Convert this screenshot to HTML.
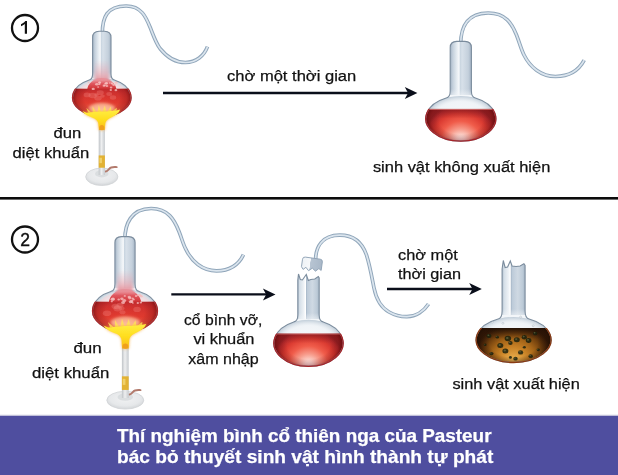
<!DOCTYPE html>
<html><head><meta charset="utf-8"><title>Pasteur</title>
<style>
html,body{margin:0;padding:0;background:#fff;}
body{width:618px;height:475px;overflow:hidden;}
svg{display:block;font-family:"Liberation Sans",sans-serif;}
text{opacity:0.999;}
</style></head><body>
<svg width="618" height="475" viewBox="0 0 618 475">
<defs>
<radialGradient id="base" cx="0.5" cy="0.4" r="0.6"><stop offset="0" stop-color="#f1f2f3"/><stop offset="0.7" stop-color="#e6e8ea"/><stop offset="1" stop-color="#d2d5d8"/></radialGradient>
<linearGradient id="btube" x1="0" x2="1"><stop offset="0" stop-color="#bfc3c7"/><stop offset="0.45" stop-color="#eeeff0"/><stop offset="1" stop-color="#c6cace"/></linearGradient>
<linearGradient id="fl" x1="0" x2="0" y1="0" y2="1"><stop offset="0" stop-color="#ffee44"/><stop offset="0.5" stop-color="#ffde1e"/><stop offset="0.85" stop-color="#fbc51a"/><stop offset="1" stop-color="#f0a61a"/></linearGradient>
<filter id="b0" x="-30%" y="-30%" width="160%" height="160%"><feGaussianBlur stdDeviation="0.35"/></filter>
<filter id="b1" x="-20%" y="-20%" width="140%" height="140%"><feGaussianBlur stdDeviation="0.75"/></filter>
<filter id="b2" x="-30%" y="-30%" width="160%" height="160%"><feGaussianBlur stdDeviation="1.8"/></filter>
<linearGradient id="cap" x1="0" x2="1"><stop offset="0" stop-color="#eef2f6"/><stop offset="0.4" stop-color="#f6f8fa"/><stop offset="0.42" stop-color="#b7c4d2"/><stop offset="1" stop-color="#a9b8c8"/></linearGradient>
<clipPath id="c1"><path d="M92.6,37.3 C92.6,33.3 94.8,31.5 99.1,31.3 L104.5,31.3 C108.8,31.5 111.0,33.3 111.0,37.3 L111.0,74 Q111.0,79.57 115.0,80.17 A29.2,19.2 0 1 1 88.6,80.17 Q92.6,79.57 92.6,74 Z"/></clipPath>
<clipPath id="l1"><rect x="69.6" y="88.5" width="64.4" height="32.0"/></clipPath>
<linearGradient id="nk1" gradientUnits="userSpaceOnUse" x1="92.6" y1="0" x2="111.0" y2="0"><stop offset="0" stop-color="#a3b3c4"/><stop offset="0.12" stop-color="#c4d0dc"/><stop offset="0.3" stop-color="#e3eaf0"/><stop offset="0.42" stop-color="#f7f9fb"/><stop offset="0.47" stop-color="#c9d5e0"/><stop offset="0.56" stop-color="#d7e0e9"/><stop offset="0.85" stop-color="#c4d0dc"/><stop offset="1" stop-color="#a3b3c4"/></linearGradient>
<linearGradient id="nf1" gradientUnits="userSpaceOnUse" x1="0" y1="72" x2="0" y2="83"><stop offset="0" stop-color="#f3f6f9" stop-opacity="0"/><stop offset="1" stop-color="#f3f6f9" stop-opacity="1"/></linearGradient>
<radialGradient id="bg1" gradientUnits="userSpaceOnUse" cx="0" cy="0" r="1" gradientTransform="translate(101.8 97.3) scale(29.2 19.2)"><stop offset="0" stop-color="#ffffff" stop-opacity="0"/><stop offset="0.75" stop-color="#e8eef3" stop-opacity="0.3"/><stop offset="1" stop-color="#b8c6d3" stop-opacity="0.9"/></radialGradient>
<linearGradient id="sm1" gradientUnits="userSpaceOnUse" x1="0" y1="60" x2="0" y2="82"><stop offset="0" stop-color="#e9a3ad" stop-opacity="0"/><stop offset="0.5" stop-color="#eaa0aa" stop-opacity="0.45"/><stop offset="1" stop-color="#e2808c" stop-opacity="0.9"/></linearGradient>
<clipPath id="f1"><rect x="72.6" y="76.1" width="58.4" height="12.900000000000006"/></clipPath>
<linearGradient id="fm1" gradientUnits="userSpaceOnUse" x1="0" y1="80.1" x2="0" y2="88.5"><stop offset="0" stop-color="#ea8e96" stop-opacity="0.85"/><stop offset="0.4" stop-color="#e05860" stop-opacity="1"/><stop offset="1" stop-color="#d23638" stop-opacity="1"/></linearGradient>
<linearGradient id="rv1" gradientUnits="userSpaceOnUse" x1="0" y1="88.5" x2="0" y2="116.5"><stop offset="0" stop-color="#c22c2e"/><stop offset="0.15" stop-color="#d23230"/><stop offset="0.5" stop-color="#e43c30"/><stop offset="0.8" stop-color="#ee5642"/><stop offset="1" stop-color="#f47c5e"/></linearGradient>
<radialGradient id="re1" gradientUnits="userSpaceOnUse" cx="0" cy="0" r="1" gradientTransform="translate(101.8 98.3) scale(29.2 20.16)"><stop offset="0" stop-color="#7a1012" stop-opacity="0"/><stop offset="0.6" stop-color="#7a1012" stop-opacity="0.05"/><stop offset="0.85" stop-color="#8a1416" stop-opacity="0.4"/><stop offset="1" stop-color="#7a1012" stop-opacity="0.8"/></radialGradient>
<radialGradient id="gl1" gradientUnits="userSpaceOnUse" cx="0" cy="0" r="1" gradientTransform="translate(101.8 113.5) scale(17.52 11.904)"><stop offset="0" stop-color="#ffe6c8" stop-opacity="0.95"/><stop offset="0.45" stop-color="#f9b49a" stop-opacity="0.7"/><stop offset="1" stop-color="#f08068" stop-opacity="0"/></radialGradient>
<clipPath id="c2"><path d="M450.2,47.4 C450.2,43.4 452.4,41.6 456.7,41.4 L464.90000000000003,41.4 C469.20000000000005,41.6 471.40000000000003,43.4 471.40000000000003,47.4 L471.40000000000003,91 Q471.40000000000003,97.36 475.40000000000003,97.96 A35.0,22.6 0 1 1 446.2,97.96 Q450.2,97.36 450.2,91 Z"/></clipPath>
<clipPath id="l2"><rect x="422.8" y="108.8" width="76.0" height="36.3"/></clipPath>
<linearGradient id="nk2" gradientUnits="userSpaceOnUse" x1="450.2" y1="0" x2="471.40000000000003" y2="0"><stop offset="0" stop-color="#a3b3c4"/><stop offset="0.12" stop-color="#c4d0dc"/><stop offset="0.3" stop-color="#e3eaf0"/><stop offset="0.42" stop-color="#f7f9fb"/><stop offset="0.47" stop-color="#c9d5e0"/><stop offset="0.56" stop-color="#d7e0e9"/><stop offset="0.85" stop-color="#c4d0dc"/><stop offset="1" stop-color="#a3b3c4"/></linearGradient>
<linearGradient id="nf2" gradientUnits="userSpaceOnUse" x1="0" y1="89" x2="0" y2="100"><stop offset="0" stop-color="#f3f6f9" stop-opacity="0"/><stop offset="1" stop-color="#f3f6f9" stop-opacity="1"/></linearGradient>
<radialGradient id="bg2" gradientUnits="userSpaceOnUse" cx="0" cy="0" r="1" gradientTransform="translate(460.8 118.5) scale(35.0 22.6)"><stop offset="0" stop-color="#ffffff" stop-opacity="0"/><stop offset="0.75" stop-color="#e8eef3" stop-opacity="0.3"/><stop offset="1" stop-color="#b8c6d3" stop-opacity="0.9"/></radialGradient>
<radialGradient id="rv2" gradientUnits="userSpaceOnUse" cx="0" cy="0" r="1" gradientTransform="translate(460.8 142.1) scale(37.800000000000004 38.114)"><stop offset="0" stop-color="#ffffff"/><stop offset="0.14" stop-color="#fde2dc"/><stop offset="0.34" stop-color="#f79c8c"/><stop offset="0.55" stop-color="#f05c4a"/><stop offset="0.76" stop-color="#dc3c32"/><stop offset="0.92" stop-color="#b42a2c"/><stop offset="1" stop-color="#8e2024"/></radialGradient>
<linearGradient id="rt2" gradientUnits="userSpaceOnUse" x1="0" y1="108.8" x2="0" y2="118.49"><stop offset="0" stop-color="#86181c" stop-opacity="0.75"/><stop offset="0.5" stop-color="#8e1c20" stop-opacity="0.35"/><stop offset="1" stop-color="#9a2024" stop-opacity="0"/></linearGradient>
<radialGradient id="re2" gradientUnits="userSpaceOnUse" cx="0" cy="0" r="1" gradientTransform="translate(460.8 119.5) scale(35.0 23.730000000000004)"><stop offset="0" stop-color="#7a1012" stop-opacity="0"/><stop offset="0.62" stop-color="#7a1012" stop-opacity="0.0"/><stop offset="0.85" stop-color="#7a1012" stop-opacity="0.35"/><stop offset="1" stop-color="#640a0c" stop-opacity="0.85"/></radialGradient>
<clipPath id="c3"><path d="M114.9,242.6 C114.9,238.6 117.10000000000001,236.79999999999998 121.4,236.6 L128.6,236.6 C132.9,236.79999999999998 135.1,238.6 135.1,242.6 L135.1,284 Q135.1,290.81 139.1,291.41 A32.4,21.2 0 1 1 110.9,291.41 Q114.9,290.81 114.9,284 Z"/></clipPath>
<clipPath id="l3"><rect x="89.6" y="301.5" width="70.8" height="34.19999999999999"/></clipPath>
<linearGradient id="nk3" gradientUnits="userSpaceOnUse" x1="114.9" y1="0" x2="135.1" y2="0"><stop offset="0" stop-color="#a3b3c4"/><stop offset="0.12" stop-color="#c4d0dc"/><stop offset="0.3" stop-color="#e3eaf0"/><stop offset="0.42" stop-color="#f7f9fb"/><stop offset="0.47" stop-color="#c9d5e0"/><stop offset="0.56" stop-color="#d7e0e9"/><stop offset="0.85" stop-color="#c4d0dc"/><stop offset="1" stop-color="#a3b3c4"/></linearGradient>
<linearGradient id="nf3" gradientUnits="userSpaceOnUse" x1="0" y1="282" x2="0" y2="293"><stop offset="0" stop-color="#f3f6f9" stop-opacity="0"/><stop offset="1" stop-color="#f3f6f9" stop-opacity="1"/></linearGradient>
<radialGradient id="bg3" gradientUnits="userSpaceOnUse" cx="0" cy="0" r="1" gradientTransform="translate(125 310.5) scale(32.4 21.2)"><stop offset="0" stop-color="#ffffff" stop-opacity="0"/><stop offset="0.75" stop-color="#e8eef3" stop-opacity="0.3"/><stop offset="1" stop-color="#b8c6d3" stop-opacity="0.9"/></radialGradient>
<linearGradient id="sm3" gradientUnits="userSpaceOnUse" x1="0" y1="270" x2="0" y2="292"><stop offset="0" stop-color="#e9a3ad" stop-opacity="0"/><stop offset="0.5" stop-color="#eaa0aa" stop-opacity="0.45"/><stop offset="1" stop-color="#e2808c" stop-opacity="0.9"/></linearGradient>
<clipPath id="f3"><rect x="92.6" y="287.3" width="64.8" height="14.699999999999989"/></clipPath>
<linearGradient id="fm3" gradientUnits="userSpaceOnUse" x1="0" y1="291.3" x2="0" y2="301.5"><stop offset="0" stop-color="#ea8e96" stop-opacity="0.85"/><stop offset="0.4" stop-color="#e05860" stop-opacity="1"/><stop offset="1" stop-color="#d23638" stop-opacity="1"/></linearGradient>
<linearGradient id="rv3" gradientUnits="userSpaceOnUse" x1="0" y1="301.5" x2="0" y2="331.7"><stop offset="0" stop-color="#c22c2e"/><stop offset="0.15" stop-color="#d23230"/><stop offset="0.5" stop-color="#e43c30"/><stop offset="0.8" stop-color="#ee5642"/><stop offset="1" stop-color="#f47c5e"/></linearGradient>
<radialGradient id="re3" gradientUnits="userSpaceOnUse" cx="0" cy="0" r="1" gradientTransform="translate(125 311.5) scale(32.4 22.26)"><stop offset="0" stop-color="#7a1012" stop-opacity="0"/><stop offset="0.6" stop-color="#7a1012" stop-opacity="0.05"/><stop offset="0.85" stop-color="#8a1416" stop-opacity="0.4"/><stop offset="1" stop-color="#7a1012" stop-opacity="0.8"/></radialGradient>
<radialGradient id="gl3" gradientUnits="userSpaceOnUse" cx="0" cy="0" r="1" gradientTransform="translate(125 328.7) scale(19.439999999999998 13.144)"><stop offset="0" stop-color="#ffe6c8" stop-opacity="0.95"/><stop offset="0.45" stop-color="#f9b49a" stop-opacity="0.7"/><stop offset="1" stop-color="#f08068" stop-opacity="0"/></radialGradient>
<clipPath id="c4"><path d="M297.8,280.0 L298.5,274.0 L300.3,279.5 L302.4,280.0 L306.3,274.5 L308.3,280.5 L310.8,279.5 L314.8,279.0 L318.3,276.5 L319.2,278.0 L319.2,315 Q319.2,321.31 323.2,321.91 A34.6,23.3 0 1 1 293.8,321.91 Q297.8,321.31 297.8,315 Z"/></clipPath>
<clipPath id="l4"><rect x="270.9" y="333.4" width="75.2" height="36.900000000000034"/></clipPath>
<linearGradient id="nk4" gradientUnits="userSpaceOnUse" x1="297.8" y1="0" x2="319.2" y2="0"><stop offset="0" stop-color="#a9b8c8"/><stop offset="0.08" stop-color="#d4dee7"/><stop offset="0.28" stop-color="#eef2f6"/><stop offset="0.36" stop-color="#ffffff"/><stop offset="0.385" stop-color="#9fb0c2"/><stop offset="0.43" stop-color="#bccad8"/><stop offset="0.68" stop-color="#cfd9e3"/><stop offset="0.9" stop-color="#bccad7"/><stop offset="1" stop-color="#a3b3c4"/></linearGradient>
<linearGradient id="nf4" gradientUnits="userSpaceOnUse" x1="0" y1="313" x2="0" y2="324"><stop offset="0" stop-color="#f3f6f9" stop-opacity="0"/><stop offset="1" stop-color="#f3f6f9" stop-opacity="1"/></linearGradient>
<radialGradient id="bg4" gradientUnits="userSpaceOnUse" cx="0" cy="0" r="1" gradientTransform="translate(308.5 343) scale(34.6 23.3)"><stop offset="0" stop-color="#ffffff" stop-opacity="0"/><stop offset="0.75" stop-color="#e8eef3" stop-opacity="0.3"/><stop offset="1" stop-color="#b8c6d3" stop-opacity="0.9"/></radialGradient>
<radialGradient id="rv4" gradientUnits="userSpaceOnUse" cx="0" cy="0" r="1" gradientTransform="translate(308.5 367.3) scale(37.368 38.82200000000004)"><stop offset="0" stop-color="#ffffff"/><stop offset="0.14" stop-color="#fde2dc"/><stop offset="0.34" stop-color="#f79c8c"/><stop offset="0.55" stop-color="#f05c4a"/><stop offset="0.76" stop-color="#dc3c32"/><stop offset="0.92" stop-color="#b42a2c"/><stop offset="1" stop-color="#8e2024"/></radialGradient>
<linearGradient id="rt4" gradientUnits="userSpaceOnUse" x1="0" y1="333.4" x2="0" y2="343.27"><stop offset="0" stop-color="#86181c" stop-opacity="0.75"/><stop offset="0.5" stop-color="#8e1c20" stop-opacity="0.35"/><stop offset="1" stop-color="#9a2024" stop-opacity="0"/></linearGradient>
<radialGradient id="re4" gradientUnits="userSpaceOnUse" cx="0" cy="0" r="1" gradientTransform="translate(308.5 344) scale(34.6 24.465000000000003)"><stop offset="0" stop-color="#7a1012" stop-opacity="0"/><stop offset="0.62" stop-color="#7a1012" stop-opacity="0.0"/><stop offset="0.85" stop-color="#7a1012" stop-opacity="0.35"/><stop offset="1" stop-color="#640a0c" stop-opacity="0.85"/></radialGradient>
<clipPath id="c5"><path d="M502.1,269.0 L503.3,260.5 L505.1,267.5 L507.6,267.0 L510.3,261.0 L512.1,266.0 L516.1,266.5 L520.1,266.0 L523.9,263.8 L525.1,265.5 L525.1,311 Q525.1,318.35 529.1,318.95 A37.4,22.8 0 1 1 498.1,318.95 Q502.1,318.35 502.1,311 Z"/></clipPath>
<clipPath id="l5"><rect x="473.20000000000005" y="328" width="80.8" height="38.5"/></clipPath>
<linearGradient id="nk5" gradientUnits="userSpaceOnUse" x1="502.1" y1="0" x2="525.1" y2="0"><stop offset="0" stop-color="#a9b8c8"/><stop offset="0.08" stop-color="#d4dee7"/><stop offset="0.28" stop-color="#eef2f6"/><stop offset="0.36" stop-color="#ffffff"/><stop offset="0.385" stop-color="#9fb0c2"/><stop offset="0.43" stop-color="#bccad8"/><stop offset="0.68" stop-color="#cfd9e3"/><stop offset="0.9" stop-color="#bccad7"/><stop offset="1" stop-color="#a3b3c4"/></linearGradient>
<linearGradient id="nf5" gradientUnits="userSpaceOnUse" x1="0" y1="309" x2="0" y2="320"><stop offset="0" stop-color="#f3f6f9" stop-opacity="0"/><stop offset="1" stop-color="#f3f6f9" stop-opacity="1"/></linearGradient>
<radialGradient id="bg5" gradientUnits="userSpaceOnUse" cx="0" cy="0" r="1" gradientTransform="translate(513.6 339.7) scale(37.4 22.8)"><stop offset="0" stop-color="#ffffff" stop-opacity="0"/><stop offset="0.75" stop-color="#e8eef3" stop-opacity="0.3"/><stop offset="1" stop-color="#b8c6d3" stop-opacity="0.9"/></radialGradient>
<radialGradient id="rv5" gradientUnits="userSpaceOnUse" cx="0" cy="0" r="1" gradientTransform="translate(513.6 363.5) scale(40.392 41.4)"><stop offset="0" stop-color="#f2c468"/><stop offset="0.18" stop-color="#e2a444"/><stop offset="0.4" stop-color="#c88226"/><stop offset="0.6" stop-color="#a46418"/><stop offset="0.78" stop-color="#74420e"/><stop offset="0.92" stop-color="#48260a"/><stop offset="1" stop-color="#2c1606"/></radialGradient>
<linearGradient id="rt5" gradientUnits="userSpaceOnUse" x1="0" y1="328" x2="0" y2="339.04"><stop offset="0" stop-color="#1e0e04" stop-opacity="0.9"/><stop offset="0.45" stop-color="#2a1406" stop-opacity="0.5"/><stop offset="1" stop-color="#3a1c08" stop-opacity="0"/></linearGradient>
<radialGradient id="re5" gradientUnits="userSpaceOnUse" cx="0" cy="0" r="1" gradientTransform="translate(513.6 341.7) scale(37.4 23.94)"><stop offset="0" stop-color="#2a1204" stop-opacity="0"/><stop offset="0.65" stop-color="#2a1204" stop-opacity="0.0"/><stop offset="0.86" stop-color="#2e1405" stop-opacity="0.4"/><stop offset="1" stop-color="#241004" stop-opacity="0.9"/></radialGradient>
</defs>
<rect width="618" height="475" fill="#ffffff"/>
<rect x="0" y="197" width="618" height="2.6" fill="#0c0c0c"/>
<rect x="0" y="414.6" width="618" height="1.4" fill="#dcdce8"/>
<rect x="0" y="415.8" width="618" height="60" fill="#4f4e9f"/>
<circle cx="25" cy="28" r="13" fill="#fff" stroke="#111" stroke-width="2.3"/>
<path d="M27,21 L27,33.8 L24.8,33.8 L24.8,23.9 C23.7,24.9 22.4,25.7 21,26.3 L21,24.3 C22.9,23.4 24.4,22.2 25.3,21 Z" fill="#111"/>
<circle cx="25" cy="239.5" r="13" fill="#fff" stroke="#111" stroke-width="2.3"/>
<text x="25" y="245.8" font-size="17.5" font-weight="normal" fill="#111" stroke="#111" stroke-width="0.4" text-anchor="middle">2</text>
<path d="M102.3,34 C102.3,17 107,6.2 126,6 C143,5.8 147,20 151,29.5 C154,37 156,43 160,48.5 C166,56 175,62.5 185.5,62.5 C196,62.5 204,56 207.5,46.7" fill="none" stroke="#90a6ba" stroke-width="3.7" stroke-linecap="butt"/><path d="M102.3,34 C102.3,17 107,6.2 126,6 C143,5.8 147,20 151,29.5 C154,37 156,43 160,48.5 C166,56 175,62.5 185.5,62.5 C196,62.5 204,56 207.5,46.7" fill="none" stroke="#dbe5ee" stroke-width="1.7" stroke-linecap="butt"/>
<path d="M460.6,45 C460.6,28 466,13.3 488,13 C506,12.8 512,24 516.5,35 C520,44 521,49 524,55 C530,67 541,76.5 555.5,76.5 C569,76.5 579,70 584.2,60.2" fill="none" stroke="#90a6ba" stroke-width="3.7" stroke-linecap="butt"/><path d="M460.6,45 C460.6,28 466,13.3 488,13 C506,12.8 512,24 516.5,35 C520,44 521,49 524,55 C530,67 541,76.5 555.5,76.5 C569,76.5 579,70 584.2,60.2" fill="none" stroke="#dbe5ee" stroke-width="1.7" stroke-linecap="butt"/>
<path d="M124.8,240 C124.8,224 131,208.8 151,208.5 C168,208.3 174.5,220 179,231.5 C182,239 183,244 186,249.5 C191.5,261 202,270.8 216.5,270.8 C229,270.8 238.5,265 243.5,254.6" fill="none" stroke="#90a6ba" stroke-width="3.7" stroke-linecap="butt"/><path d="M124.8,240 C124.8,224 131,208.8 151,208.5 C168,208.3 174.5,220 179,231.5 C182,239 183,244 186,249.5 C191.5,261 202,270.8 216.5,270.8 C229,270.8 238.5,265 243.5,254.6" fill="none" stroke="#dbe5ee" stroke-width="1.7" stroke-linecap="butt"/>
<path d="M315.6,259 C316,247 322,235.5 339.5,235.2 C356,235 363,245 366.5,255 C370,266 372,278 374,288 C376,298 380,307 389,312 C396,316 402,316.8 407,316.7 C416,316.5 424,311 428.5,304" fill="none" stroke="#90a6ba" stroke-width="3.7" stroke-linecap="butt"/><path d="M315.6,259 C316,247 322,235.5 339.5,235.2 C356,235 363,245 366.5,255 C370,266 372,278 374,288 C376,298 380,307 389,312 C396,316 402,316.8 407,316.7 C416,316.5 424,311 428.5,304" fill="none" stroke="#dbe5ee" stroke-width="1.7" stroke-linecap="butt"/>
<ellipse cx="101.8" cy="176.8" rx="16.1" ry="8.7" fill="url(#base)" stroke="#d0d3d6" stroke-width="0.8"/>
<ellipse cx="101.8" cy="173.75500000000002" rx="6.7620000000000005" ry="3.6539999999999995" fill="#d8dbde" opacity="0.9"/>
<path d="M105.69999999999999,171.5 c2.5,-0.5 3,-3.2 5.5,-4 s3,-0.6 5.5,-0.4" fill="none" stroke="#b27a6c" stroke-width="1.9" stroke-linecap="round"/>
<rect x="98.7" y="129.5" width="6.2" height="45.5" fill="url(#btube)"/>
<rect x="98.7" y="155.435" width="6.2" height="12.285" fill="#e2b234"/>
<rect x="99.5" y="157.71" width="2.4800000000000004" height="5.46" fill="#f4d878" opacity="0.8"/>
<ellipse cx="125.3" cy="400.2" rx="18.5" ry="8.9" fill="url(#base)" stroke="#d0d3d6" stroke-width="0.8"/>
<ellipse cx="125.3" cy="397.085" rx="7.77" ry="3.738" fill="#d8dbde" opacity="0.9"/>
<path d="M129.5,394.5 c2.5,-0.5 3,-3.2 5.5,-4 s3,-0.6 5.5,-0.4" fill="none" stroke="#b27a6c" stroke-width="1.9" stroke-linecap="round"/>
<rect x="121.89999999999999" y="347.6" width="6.8" height="50.39999999999998" fill="url(#btube)"/>
<rect x="121.89999999999999" y="376.32800000000003" width="6.8" height="13.607999999999995" fill="#e2b234"/>
<rect x="122.69999999999999" y="378.848" width="2.72" height="6.047999999999997" fill="#f4d878" opacity="0.8"/>
<path d="M92.6,37.3 C92.6,33.3 94.8,31.5 99.1,31.3 L104.5,31.3 C108.8,31.5 111.0,33.3 111.0,37.3 L111.0,74 Q111.0,79.57 115.0,80.17 A29.2,19.2 0 1 1 88.6,80.17 Q92.6,79.57 92.6,74 Z" fill="#f3f6f9"/>
<g clip-path="url(#c1)">
<rect x="92.6" y="27.3" width="18.4" height="50.7" fill="url(#nk1)"/>
<rect x="91.6" y="72" width="20.4" height="12" fill="url(#nf1)"/>
<ellipse cx="101.8" cy="97.3" rx="29.2" ry="19.2" fill="url(#bg1)"/>
<rect x="94.44" y="60" width="14.719999999999999" height="24" fill="url(#sm1)" filter="url(#b2)"/>
<g clip-path="url(#f1)"><ellipse cx="101.8" cy="97.3" rx="26.28" ry="16.896" fill="#f4ccd0" opacity="0.5" filter="url(#b1)"/><ellipse cx="101.8" cy="90.5" rx="14.6" ry="12.400000000000006" fill="url(#fm1)" filter="url(#b1)"/></g>
<g clip-path="url(#l1)">
<rect x="70.6" y="88.5" width="62.4" height="30.0" fill="url(#rv1)"/>
<rect x="70.6" y="88.5" width="62.4" height="30.0" fill="url(#re1)"/>
</g>
<ellipse cx="101.8" cy="113.5" rx="17.52" ry="11.904" fill="url(#gl1)"/>
<ellipse cx="103.9" cy="85.7" rx="1.3" ry="1.1" fill="#f6bcbc" opacity="0.8"/>
<ellipse cx="93.2" cy="88.9" rx="1.6" ry="1.2" fill="#f6bcbc" opacity="0.8"/>
<ellipse cx="106.3" cy="83.5" rx="1.3" ry="1.0" fill="#f6bcbc" opacity="0.8"/>
<ellipse cx="96.8" cy="84.2" rx="1.7" ry="1.3" fill="#f6bcbc" opacity="0.8"/>
<ellipse cx="116.3" cy="82.5" rx="1.6" ry="1.3" fill="#f6bcbc" opacity="0.8"/>
<ellipse cx="104.8" cy="85.3" rx="1.1" ry="0.9" fill="#f6bcbc" opacity="0.8"/>
<ellipse cx="106.9" cy="86.0" rx="1.4" ry="1.1" fill="#f6bcbc" opacity="0.8"/>
<ellipse cx="106.5" cy="83.3" rx="1.5" ry="1.2" fill="#f6bcbc" opacity="0.8"/>
<ellipse cx="115.9" cy="90.2" rx="1.4" ry="1.1" fill="#f6bcbc" opacity="0.8"/>
<ellipse cx="88.5" cy="82.2" rx="1.0" ry="0.8" fill="#f6bcbc" opacity="0.8"/>
<ellipse cx="114.7" cy="84.7" rx="1.2" ry="0.9" fill="#f6bcbc" opacity="0.8"/>
<ellipse cx="113.4" cy="84.8" rx="1.3" ry="1.1" fill="#f6bcbc" opacity="0.8"/>
<ellipse cx="99.9" cy="82.7" rx="1.3" ry="1.1" fill="#f6bcbc" opacity="0.8"/>
<ellipse cx="111.8" cy="83.5" rx="1.0" ry="0.8" fill="#f6bcbc" opacity="0.8"/>
<ellipse cx="99.3" cy="82.5" rx="1.3" ry="1.0" fill="#f6bcbc" opacity="0.8"/>
<ellipse cx="111.1" cy="87.6" rx="1.3" ry="1.0" fill="#f6bcbc" opacity="0.8"/>
<ellipse cx="112.2" cy="83.4" rx="1.3" ry="1.1" fill="#f6bcbc" opacity="0.8"/>
<ellipse cx="98.1" cy="87.1" rx="0.9" ry="0.8" fill="#f6bcbc" opacity="0.8"/>
<ellipse cx="109.8" cy="83.0" rx="1.0" ry="0.8" fill="#f6bcbc" opacity="0.8"/>
<ellipse cx="110.8" cy="90.0" rx="1.2" ry="1.0" fill="#f6bcbc" opacity="0.8"/>
<ellipse cx="99.3" cy="84.2" rx="1.1" ry="0.9" fill="#f6bcbc" opacity="0.8"/>
<ellipse cx="105.2" cy="83.6" rx="1.0" ry="0.8" fill="#f6bcbc" opacity="0.8"/>
<ellipse cx="100.2" cy="92.7" rx="3.6" ry="2.4" fill="#f2807a" opacity="0.35"/>
<ellipse cx="113.0" cy="97.5" rx="3.2" ry="2.2" fill="#f2807a" opacity="0.35"/>
<ellipse cx="96.5" cy="94.8" rx="2.2" ry="1.5" fill="#f2807a" opacity="0.35"/>
<ellipse cx="109.2" cy="94.0" rx="2.9" ry="1.9" fill="#f2807a" opacity="0.35"/>
<ellipse cx="87.1" cy="94.9" rx="3.5" ry="2.3" fill="#f2807a" opacity="0.35"/>
<ellipse cx="98.0" cy="98.2" rx="3.7" ry="2.4" fill="#f2807a" opacity="0.35"/>
<ellipse cx="92.7" cy="95.5" rx="4.2" ry="2.8" fill="#f2807a" opacity="0.35"/>
<ellipse cx="102.5" cy="96.1" rx="2.3" ry="1.6" fill="#f2807a" opacity="0.35"/>
</g>
<path d="M92.6,37.3 C92.6,33.3 94.8,31.5 99.1,31.3 L104.5,31.3 C108.8,31.5 111.0,33.3 111.0,37.3 L111.0,74 Q111.0,79.57 115.0,80.17 A29.2,19.2 0 1 1 88.6,80.17 Q92.6,79.57 92.6,74 Z" fill="none" stroke="#7b8c9d" stroke-width="1.1"/>
<g clip-path="url(#l1)"><path d="M92.6,37.3 C92.6,33.3 94.8,31.5 99.1,31.3 L104.5,31.3 C108.8,31.5 111.0,33.3 111.0,37.3 L111.0,74 Q111.0,79.57 115.0,80.17 A29.2,19.2 0 1 1 88.6,80.17 Q92.6,79.57 92.6,74 Z" fill="none" stroke="#b02a2a" stroke-width="1.3"/></g>
<path d="M450.2,47.4 C450.2,43.4 452.4,41.6 456.7,41.4 L464.90000000000003,41.4 C469.20000000000005,41.6 471.40000000000003,43.4 471.40000000000003,47.4 L471.40000000000003,91 Q471.40000000000003,97.36 475.40000000000003,97.96 A35.0,22.6 0 1 1 446.2,97.96 Q450.2,97.36 450.2,91 Z" fill="#f3f6f9"/>
<g clip-path="url(#c2)">
<rect x="450.2" y="37.4" width="21.2" height="57.6" fill="url(#nk2)"/>
<rect x="449.2" y="89" width="23.2" height="12" fill="url(#nf2)"/>
<ellipse cx="460.8" cy="118.5" rx="35.0" ry="22.6" fill="url(#bg2)"/>
<g clip-path="url(#l2)">
<rect x="423.8" y="108.8" width="74.0" height="34.3" fill="url(#rv2)"/>
<rect x="423.8" y="108.8" width="74.0" height="9.69" fill="url(#rt2)"/>
<rect x="423.8" y="108.8" width="74.0" height="34.3" fill="url(#re2)"/>
<rect x="423.8" y="108.8" width="74.0" height="1" fill="#e88a88" opacity="0.8"/>
</g>
</g>
<path d="M450.2,47.4 C450.2,43.4 452.4,41.6 456.7,41.4 L464.90000000000003,41.4 C469.20000000000005,41.6 471.40000000000003,43.4 471.40000000000003,47.4 L471.40000000000003,91 Q471.40000000000003,97.36 475.40000000000003,97.96 A35.0,22.6 0 1 1 446.2,97.96 Q450.2,97.36 450.2,91 Z" fill="none" stroke="#7b8c9d" stroke-width="1.1"/>
<g clip-path="url(#l2)"><path d="M450.2,47.4 C450.2,43.4 452.4,41.6 456.7,41.4 L464.90000000000003,41.4 C469.20000000000005,41.6 471.40000000000003,43.4 471.40000000000003,47.4 L471.40000000000003,91 Q471.40000000000003,97.36 475.40000000000003,97.96 A35.0,22.6 0 1 1 446.2,97.96 Q450.2,97.36 450.2,91 Z" fill="none" stroke="#a82428" stroke-width="1.3"/></g>
<path d="M114.9,242.6 C114.9,238.6 117.10000000000001,236.79999999999998 121.4,236.6 L128.6,236.6 C132.9,236.79999999999998 135.1,238.6 135.1,242.6 L135.1,284 Q135.1,290.81 139.1,291.41 A32.4,21.2 0 1 1 110.9,291.41 Q114.9,290.81 114.9,284 Z" fill="#f3f6f9"/>
<g clip-path="url(#c3)">
<rect x="114.9" y="232.6" width="20.2" height="55.400000000000006" fill="url(#nk3)"/>
<rect x="113.9" y="282" width="22.2" height="12" fill="url(#nf3)"/>
<ellipse cx="125" cy="310.5" rx="32.4" ry="21.2" fill="url(#bg3)"/>
<rect x="116.92" y="270" width="16.16" height="24" fill="url(#sm3)" filter="url(#b2)"/>
<g clip-path="url(#f3)"><ellipse cx="125" cy="310.5" rx="29.16" ry="18.656" fill="#f4ccd0" opacity="0.5" filter="url(#b1)"/><ellipse cx="125" cy="303.5" rx="16.2" ry="14.199999999999989" fill="url(#fm3)" filter="url(#b1)"/></g>
<g clip-path="url(#l3)">
<rect x="90.6" y="301.5" width="68.8" height="32.19999999999999" fill="url(#rv3)"/>
<rect x="90.6" y="301.5" width="68.8" height="32.19999999999999" fill="url(#re3)"/>
</g>
<ellipse cx="125" cy="328.7" rx="19.439999999999998" ry="13.144" fill="url(#gl3)"/>
<ellipse cx="131.9" cy="302.2" rx="1.1" ry="0.9" fill="#f6bcbc" opacity="0.8"/>
<ellipse cx="141.1" cy="296.3" rx="1.6" ry="1.3" fill="#f6bcbc" opacity="0.8"/>
<ellipse cx="111.8" cy="301.4" rx="1.1" ry="0.9" fill="#f6bcbc" opacity="0.8"/>
<ellipse cx="131.7" cy="301.1" rx="1.7" ry="1.3" fill="#f6bcbc" opacity="0.8"/>
<ellipse cx="123.1" cy="302.4" rx="1.9" ry="1.5" fill="#f6bcbc" opacity="0.8"/>
<ellipse cx="112.5" cy="299.2" rx="1.9" ry="1.5" fill="#f6bcbc" opacity="0.8"/>
<ellipse cx="132.7" cy="298.6" rx="1.2" ry="1.0" fill="#f6bcbc" opacity="0.8"/>
<ellipse cx="139.7" cy="295.3" rx="1.7" ry="1.3" fill="#f6bcbc" opacity="0.8"/>
<ellipse cx="136.1" cy="295.9" rx="1.3" ry="1.0" fill="#f6bcbc" opacity="0.8"/>
<ellipse cx="118.7" cy="299.5" rx="1.3" ry="1.0" fill="#f6bcbc" opacity="0.8"/>
<ellipse cx="137.8" cy="303.0" rx="1.2" ry="1.0" fill="#f6bcbc" opacity="0.8"/>
<ellipse cx="137.8" cy="295.1" rx="1.0" ry="0.8" fill="#f6bcbc" opacity="0.8"/>
<ellipse cx="130.4" cy="301.8" rx="1.7" ry="1.4" fill="#f6bcbc" opacity="0.8"/>
<ellipse cx="140.9" cy="302.4" rx="1.2" ry="1.0" fill="#f6bcbc" opacity="0.8"/>
<ellipse cx="132.9" cy="303.0" rx="1.0" ry="0.8" fill="#f6bcbc" opacity="0.8"/>
<ellipse cx="124.8" cy="295.9" rx="1.1" ry="0.9" fill="#f6bcbc" opacity="0.8"/>
<ellipse cx="124.3" cy="300.6" rx="1.9" ry="1.5" fill="#f6bcbc" opacity="0.8"/>
<ellipse cx="113.1" cy="299.1" rx="1.9" ry="1.5" fill="#f6bcbc" opacity="0.8"/>
<ellipse cx="133.6" cy="299.4" rx="1.2" ry="0.9" fill="#f6bcbc" opacity="0.8"/>
<ellipse cx="129.2" cy="296.9" rx="1.6" ry="1.2" fill="#f6bcbc" opacity="0.8"/>
<ellipse cx="129.8" cy="298.1" rx="1.7" ry="1.4" fill="#f6bcbc" opacity="0.8"/>
<ellipse cx="121.9" cy="298.8" rx="1.7" ry="1.4" fill="#f6bcbc" opacity="0.8"/>
<ellipse cx="115.3" cy="306.3" rx="3.8" ry="2.6" fill="#f2807a" opacity="0.35"/>
<ellipse cx="122.5" cy="312.3" rx="3.0" ry="2.0" fill="#f2807a" opacity="0.35"/>
<ellipse cx="120.0" cy="305.2" rx="3.5" ry="2.4" fill="#f2807a" opacity="0.35"/>
<ellipse cx="117.7" cy="308.6" rx="4.3" ry="2.9" fill="#f2807a" opacity="0.35"/>
<ellipse cx="107.0" cy="313.3" rx="4.2" ry="2.8" fill="#f2807a" opacity="0.35"/>
<ellipse cx="137.1" cy="309.4" rx="3.8" ry="2.6" fill="#f2807a" opacity="0.35"/>
<ellipse cx="121.5" cy="308.2" rx="3.0" ry="2.0" fill="#f2807a" opacity="0.35"/>
<ellipse cx="117.3" cy="307.3" rx="3.2" ry="2.2" fill="#f2807a" opacity="0.35"/>
</g>
<path d="M114.9,242.6 C114.9,238.6 117.10000000000001,236.79999999999998 121.4,236.6 L128.6,236.6 C132.9,236.79999999999998 135.1,238.6 135.1,242.6 L135.1,284 Q135.1,290.81 139.1,291.41 A32.4,21.2 0 1 1 110.9,291.41 Q114.9,290.81 114.9,284 Z" fill="none" stroke="#7b8c9d" stroke-width="1.1"/>
<g clip-path="url(#l3)"><path d="M114.9,242.6 C114.9,238.6 117.10000000000001,236.79999999999998 121.4,236.6 L128.6,236.6 C132.9,236.79999999999998 135.1,238.6 135.1,242.6 L135.1,284 Q135.1,290.81 139.1,291.41 A32.4,21.2 0 1 1 110.9,291.41 Q114.9,290.81 114.9,284 Z" fill="none" stroke="#b02a2a" stroke-width="1.3"/></g>
<path d="M297.8,280.0 L298.5,274.0 L300.3,279.5 L302.4,280.0 L306.3,274.5 L308.3,280.5 L310.8,279.5 L314.8,279.0 L318.3,276.5 L319.2,278.0 L319.2,315 Q319.2,321.31 323.2,321.91 A34.6,23.3 0 1 1 293.8,321.91 Q297.8,321.31 297.8,315 Z" fill="#f3f6f9"/>
<g clip-path="url(#c4)">
<rect x="297.8" y="272" width="21.4" height="47" fill="url(#nk4)"/>
<rect x="296.8" y="313" width="23.4" height="12" fill="url(#nf4)"/>
<ellipse cx="308.5" cy="343" rx="34.6" ry="23.3" fill="url(#bg4)"/>
<g clip-path="url(#l4)">
<rect x="271.9" y="333.4" width="73.2" height="34.900000000000034" fill="url(#rv4)"/>
<rect x="271.9" y="333.4" width="73.2" height="9.87000000000001" fill="url(#rt4)"/>
<rect x="271.9" y="333.4" width="73.2" height="34.900000000000034" fill="url(#re4)"/>
<rect x="271.9" y="333.4" width="73.2" height="1" fill="#e88a88" opacity="0.8"/>
</g>
</g>
<path d="M297.8,280.0 L298.5,274.0 L300.3,279.5 L302.4,280.0 L306.3,274.5 L308.3,280.5 L310.8,279.5 L314.8,279.0 L318.3,276.5 L319.2,278.0 L319.2,315 Q319.2,321.31 323.2,321.91 A34.6,23.3 0 1 1 293.8,321.91 Q297.8,321.31 297.8,315 Z" fill="none" stroke="#7b8c9d" stroke-width="1.1"/>
<g clip-path="url(#l4)"><path d="M297.8,280.0 L298.5,274.0 L300.3,279.5 L302.4,280.0 L306.3,274.5 L308.3,280.5 L310.8,279.5 L314.8,279.0 L318.3,276.5 L319.2,278.0 L319.2,315 Q319.2,321.31 323.2,321.91 A34.6,23.3 0 1 1 293.8,321.91 Q297.8,321.31 297.8,315 Z" fill="none" stroke="#a82428" stroke-width="1.3"/></g>
<path d="M502.1,269.0 L503.3,260.5 L505.1,267.5 L507.6,267.0 L510.3,261.0 L512.1,266.0 L516.1,266.5 L520.1,266.0 L523.9,263.8 L525.1,265.5 L525.1,311 Q525.1,318.35 529.1,318.95 A37.4,22.8 0 1 1 498.1,318.95 Q502.1,318.35 502.1,311 Z" fill="#f3f6f9"/>
<g clip-path="url(#c5)">
<rect x="502.1" y="259" width="23.0" height="56" fill="url(#nk5)"/>
<rect x="501.1" y="309" width="25.0" height="12" fill="url(#nf5)"/>
<ellipse cx="513.6" cy="339.7" rx="37.4" ry="22.8" fill="url(#bg5)"/>
<g clip-path="url(#l5)">
<rect x="474.20000000000005" y="328" width="78.8" height="36.5" fill="url(#rv5)"/>
<rect x="474.20000000000005" y="328" width="78.8" height="11.040000000000001" fill="url(#rt5)"/>
<rect x="474.20000000000005" y="328" width="78.8" height="36.5" fill="url(#re5)"/>
<ellipse cx="507.9" cy="338.5" rx="3.2" ry="2.7" fill="#1a200e" opacity="0.85" filter="url(#b0)"/>
<ellipse cx="507.3" cy="337.9" rx="1.3" ry="1.0" fill="#7a8050" opacity="0.55"/>
<ellipse cx="516.8" cy="339.7" rx="3.0" ry="2.5" fill="#1a200e" opacity="0.85" filter="url(#b0)"/>
<ellipse cx="516.2" cy="339.1" rx="1.2" ry="0.9" fill="#7a8050" opacity="0.55"/>
<ellipse cx="524.3" cy="337.2" rx="2.6" ry="2.2" fill="#1a200e" opacity="0.85" filter="url(#b0)"/>
<ellipse cx="523.7" cy="336.6" rx="1.0" ry="0.8" fill="#7a8050" opacity="0.55"/>
<ellipse cx="528.6" cy="340.5" rx="2.8" ry="2.4" fill="#1a200e" opacity="0.85" filter="url(#b0)"/>
<ellipse cx="528.0" cy="339.9" rx="1.1" ry="0.8" fill="#7a8050" opacity="0.55"/>
<ellipse cx="500.3" cy="345.6" rx="3.0" ry="2.5" fill="#1a200e" opacity="0.85" filter="url(#b0)"/>
<ellipse cx="499.7" cy="345.0" rx="1.2" ry="0.9" fill="#7a8050" opacity="0.55"/>
<ellipse cx="510.4" cy="343.0" rx="2.2" ry="1.9" fill="#1a200e" opacity="0.85" filter="url(#b0)"/>
<ellipse cx="509.8" cy="342.4" rx="0.9" ry="0.7" fill="#7a8050" opacity="0.55"/>
<ellipse cx="505.4" cy="351.1" rx="3.0" ry="2.5" fill="#1a200e" opacity="0.85" filter="url(#b0)"/>
<ellipse cx="504.8" cy="350.5" rx="1.2" ry="0.9" fill="#7a8050" opacity="0.55"/>
<ellipse cx="520.6" cy="352.4" rx="2.6" ry="2.2" fill="#1a200e" opacity="0.85" filter="url(#b0)"/>
<ellipse cx="520.0" cy="351.8" rx="1.0" ry="0.8" fill="#7a8050" opacity="0.55"/>
<ellipse cx="530.7" cy="356.2" rx="2.2" ry="1.9" fill="#1a200e" opacity="0.85" filter="url(#b0)"/>
<ellipse cx="530.1" cy="355.6" rx="0.9" ry="0.7" fill="#7a8050" opacity="0.55"/>
<ellipse cx="515.5" cy="358.7" rx="2.2" ry="1.9" fill="#1a200e" opacity="0.85" filter="url(#b0)"/>
<ellipse cx="514.9" cy="358.1" rx="0.9" ry="0.7" fill="#7a8050" opacity="0.55"/>
<ellipse cx="491.5" cy="353.6" rx="2.0" ry="1.7" fill="#1a200e" opacity="0.85" filter="url(#b0)"/>
<ellipse cx="490.9" cy="353.0" rx="0.8" ry="0.6" fill="#7a8050" opacity="0.55"/>
<ellipse cx="489.0" cy="335.9" rx="2.4" ry="2.0" fill="#1a200e" opacity="0.85" filter="url(#b0)"/>
<ellipse cx="488.4" cy="335.3" rx="1.0" ry="0.7" fill="#7a8050" opacity="0.55"/>
<ellipse cx="535.2" cy="333.4" rx="2.2" ry="1.9" fill="#1a200e" opacity="0.85" filter="url(#b0)"/>
<ellipse cx="534.6" cy="332.8" rx="0.9" ry="0.7" fill="#7a8050" opacity="0.55"/>
<ellipse cx="497.3" cy="337.2" rx="1.6" ry="1.4" fill="#1a200e" opacity="0.85" filter="url(#b0)"/>
<ellipse cx="496.7" cy="336.6" rx="0.6" ry="0.5" fill="#7a8050" opacity="0.55"/>
<ellipse cx="538.3" cy="349.8" rx="1.6" ry="1.4" fill="#1a200e" opacity="0.85" filter="url(#b0)"/>
<ellipse cx="537.7" cy="349.2" rx="0.6" ry="0.5" fill="#7a8050" opacity="0.55"/>
<ellipse cx="510.4" cy="357.4" rx="1.5" ry="1.3" fill="#1a200e" opacity="0.85" filter="url(#b0)"/>
<ellipse cx="509.8" cy="356.8" rx="0.6" ry="0.4" fill="#7a8050" opacity="0.55"/>
<ellipse cx="524.3" cy="347.3" rx="1.5" ry="1.3" fill="#1a200e" opacity="0.85" filter="url(#b0)"/>
<ellipse cx="523.7" cy="346.7" rx="0.6" ry="0.4" fill="#7a8050" opacity="0.55"/>
<ellipse cx="485.2" cy="344.8" rx="1.4" ry="1.2" fill="#1a200e" opacity="0.85" filter="url(#b0)"/>
<ellipse cx="484.6" cy="344.2" rx="0.6" ry="0.4" fill="#7a8050" opacity="0.55"/>
</g>
<circle cx="492.2" cy="322.0" r="0.9" fill="#ffffff" stroke="#9aa8b5" stroke-width="0.4"/>
<circle cx="502.9" cy="323.3" r="0.9" fill="#ffffff" stroke="#9aa8b5" stroke-width="0.4"/>
<circle cx="520.6" cy="317.0" r="0.9" fill="#ffffff" stroke="#9aa8b5" stroke-width="0.4"/>
<circle cx="533.2" cy="325.8" r="0.9" fill="#ffffff" stroke="#9aa8b5" stroke-width="0.4"/>
</g>
<path d="M502.1,269.0 L503.3,260.5 L505.1,267.5 L507.6,267.0 L510.3,261.0 L512.1,266.0 L516.1,266.5 L520.1,266.0 L523.9,263.8 L525.1,265.5 L525.1,311 Q525.1,318.35 529.1,318.95 A37.4,22.8 0 1 1 498.1,318.95 Q502.1,318.35 502.1,311 Z" fill="none" stroke="#7b8c9d" stroke-width="1.1"/>
<g clip-path="url(#l5)"><path d="M502.1,269.0 L503.3,260.5 L505.1,267.5 L507.6,267.0 L510.3,261.0 L512.1,266.0 L516.1,266.5 L520.1,266.0 L523.9,263.8 L525.1,265.5 L525.1,311 Q525.1,318.35 529.1,318.95 A37.4,22.8 0 1 1 498.1,318.95 Q502.1,318.35 502.1,311 Z" fill="none" stroke="#8a3a12" stroke-width="1.3"/></g>
<ellipse cx="101.8" cy="108.1" rx="13.0" ry="5.0" fill="#ffc8a4" opacity="0.7" filter="url(#b2)"/>
<path d="M88.3,112.6 L86.3,108.0 L91.3,112.4 Z M92.8,112.4 L92.6,106.2 L96.2,112.0 Z M97.6,112.0 L98.8,105.0 L101.0,111.7 Z M102.4,111.7 L104.8,105.4 L106.4,111.7 Z M107.4,111.6 L110.8,106.4 L111.4,111.4 Z M112.4,111.2 L116.8,107.8 L116.4,111.0 Z " fill="#ffe45a" opacity="0.85" filter="url(#b1)"/>
<path d="M82.5,111.0 L86.6,112.7 L91.4,112.3 L96.3,111.8 L101.1,111.4 L106.0,111.4 L110.8,111.1 L115.7,110.7 L120.2,109.6 Q119.3,112.6 115.7,115.0 Q111.8,117.2 109.2,118.6 Q105.4,120.8 105.2,124.1 L104.7,130 L98.9,130 L98.4,124.1 Q98.2,120.8 94.4,118.6 Q90.8,117.0 87.5,115.6 Q84.0,113.8 82.5,111.0 Z" fill="#f8a830" filter="url(#b2)" opacity="0.85"/>
<path d="M82.5,111.0 L86.6,112.7 L91.4,112.3 L96.3,111.8 L101.1,111.4 L106.0,111.4 L110.8,111.1 L115.7,110.7 L120.2,109.6 Q119.3,112.6 115.7,115.0 Q111.8,117.2 109.2,118.6 Q105.4,120.8 105.2,124.1 L104.7,130 L98.9,130 L98.4,124.1 Q98.2,120.8 94.4,118.6 Q90.8,117.0 87.5,115.6 Q84.0,113.8 82.5,111.0 Z" fill="url(#fl)" filter="url(#b1)"/>
<ellipse cx="101.8" cy="127.6" rx="2.4800000000000004" ry="2.6" fill="#f0a01c" filter="url(#b1)"/>
<ellipse cx="125.4" cy="322.2" rx="14.7" ry="5.7" fill="#ffc8a4" opacity="0.7" filter="url(#b2)"/>
<path d="M110.1,327.3 L107.8,322.0 L113.5,327.0 Z M115.2,327.0 L115.0,320.0 L119.0,326.6 Z M120.6,326.6 L122.0,318.6 L124.5,326.2 Z M126.1,326.2 L128.8,319.1 L130.6,326.2 Z M131.8,326.1 L135.6,320.2 L136.3,325.9 Z M137.4,325.7 L142.4,321.8 L142.0,325.4 Z " fill="#ffe45a" opacity="0.85" filter="url(#b1)"/>
<path d="M103.5,325.4 L108.2,327.4 L113.6,326.9 L119.2,326.4 L124.6,325.9 L130.2,325.9 L135.6,325.6 L141.2,325.1 L146.3,323.9 Q145.2,327.3 141.2,330.0 Q136.7,332.5 133.8,334.1 Q129.5,336.6 129.2,340.3 L128.7,348.5 L122.1,348.5 L121.6,340.3 Q121.3,336.6 117.0,334.1 Q112.9,332.3 109.2,330.7 Q105.2,328.6 103.5,325.4 Z" fill="#f8a830" filter="url(#b2)" opacity="0.85"/>
<path d="M103.5,325.4 L108.2,327.4 L113.6,326.9 L119.2,326.4 L124.6,325.9 L130.2,325.9 L135.6,325.6 L141.2,325.1 L146.3,323.9 Q145.2,327.3 141.2,330.0 Q136.7,332.5 133.8,334.1 Q129.5,336.6 129.2,340.3 L128.7,348.5 L122.1,348.5 L121.6,340.3 Q121.3,336.6 117.0,334.1 Q112.9,332.3 109.2,330.7 Q105.2,328.6 103.5,325.4 Z" fill="url(#fl)" filter="url(#b1)"/>
<ellipse cx="125.4" cy="346.1" rx="2.8000000000000003" ry="2.6" fill="#f0a01c" filter="url(#b1)"/>
<g transform="translate(0.3 1) rotate(8 311 264)"><path d="M301.5,259.5 Q301.5,257 304,257 L319,257 Q321.5,257 321.5,259.5 L321.5,268 L319,266.5 L316,269.5 L312.5,267 L309,270 L306,267 L303.5,269.5 L301.5,267 Z" fill="url(#cap)" stroke="#90a3b6" stroke-width="0.9"/></g>
<line x1="163" y1="93" x2="409.4" y2="93" stroke="#0a0e1a" stroke-width="2.3"/><path d="M417.4,93 L404.79999999999995,87 L408.09999999999997,93 L404.79999999999995,99 Z" fill="#0a0e1a"/>
<line x1="171.3" y1="294.4" x2="267.5" y2="294.4" stroke="#0a0e1a" stroke-width="2.3"/><path d="M275.5,294.4 L262.9,288.4 L266.2,294.4 L262.9,300.4 Z" fill="#0a0e1a"/>
<line x1="387" y1="289" x2="473.8" y2="289" stroke="#0a0e1a" stroke-width="2.3"/><path d="M481.8,289 L469.2,283 L472.5,289 L469.2,295 Z" fill="#0a0e1a"/>
<text x="227" y="80.8" font-size="15.5" font-weight="normal" fill="#111" stroke="#111" stroke-width="0.25" text-anchor="start" textLength="129.2" lengthAdjust="spacingAndGlyphs">chờ một thời gian</text>
<text x="372.9" y="171.5" font-size="15.5" font-weight="normal" fill="#111" stroke="#111" stroke-width="0.25" text-anchor="start" textLength="177.4" lengthAdjust="spacingAndGlyphs">sinh vật không xuất hiện</text>
<text x="53.4" y="138.3" font-size="15.5" font-weight="normal" fill="#111" stroke="#111" stroke-width="0.25" text-anchor="start" textLength="27.8" lengthAdjust="spacingAndGlyphs">đun</text>
<text x="12.6" y="157.7" font-size="15.5" font-weight="normal" fill="#111" stroke="#111" stroke-width="0.25" text-anchor="start" textLength="76.7" lengthAdjust="spacingAndGlyphs">diệt khuẩn</text>
<text x="73.4" y="352.9" font-size="15.5" font-weight="normal" fill="#111" stroke="#111" stroke-width="0.25" text-anchor="start" textLength="28.2" lengthAdjust="spacingAndGlyphs">đun</text>
<text x="32" y="378.2" font-size="15.5" font-weight="normal" fill="#111" stroke="#111" stroke-width="0.25" text-anchor="start" textLength="77.3" lengthAdjust="spacingAndGlyphs">diệt khuẩn</text>
<text x="184" y="324.6" font-size="15.5" font-weight="normal" fill="#111" stroke="#111" stroke-width="0.25" text-anchor="start" textLength="78.3" lengthAdjust="spacingAndGlyphs">cổ bình vỡ,</text>
<text x="193.4" y="343.8" font-size="15.5" font-weight="normal" fill="#111" stroke="#111" stroke-width="0.25" text-anchor="start" textLength="61.1" lengthAdjust="spacingAndGlyphs">vi khuẩn</text>
<text x="188.2" y="364.2" font-size="15.5" font-weight="normal" fill="#111" stroke="#111" stroke-width="0.25" text-anchor="start" textLength="70.5" lengthAdjust="spacingAndGlyphs">xâm nhập</text>
<text x="398" y="260.1" font-size="15.5" font-weight="normal" fill="#111" stroke="#111" stroke-width="0.25" text-anchor="start" textLength="59.8" lengthAdjust="spacingAndGlyphs">chờ một</text>
<text x="398" y="278.7" font-size="15.5" font-weight="normal" fill="#111" stroke="#111" stroke-width="0.25" text-anchor="start" textLength="63" lengthAdjust="spacingAndGlyphs">thời gian</text>
<text x="452.4" y="388.8" font-size="15.5" font-weight="normal" fill="#111" stroke="#111" stroke-width="0.25" text-anchor="start" textLength="127.4" lengthAdjust="spacingAndGlyphs">sinh vật xuất hiện</text>
<text x="117" y="442" font-size="18.6" font-weight="bold" fill="#fff" stroke="#fff" stroke-width="0.25" text-anchor="start" textLength="374.5" lengthAdjust="spacingAndGlyphs">Thí nghiệm bình cổ thiên nga của Pasteur</text>
<text x="117" y="463.4" font-size="18.6" font-weight="bold" fill="#fff" stroke="#fff" stroke-width="0.25" text-anchor="start" textLength="376.3" lengthAdjust="spacingAndGlyphs">bác bỏ thuyết sinh vật hình thành tự phát</text>
</svg>
</body></html>
